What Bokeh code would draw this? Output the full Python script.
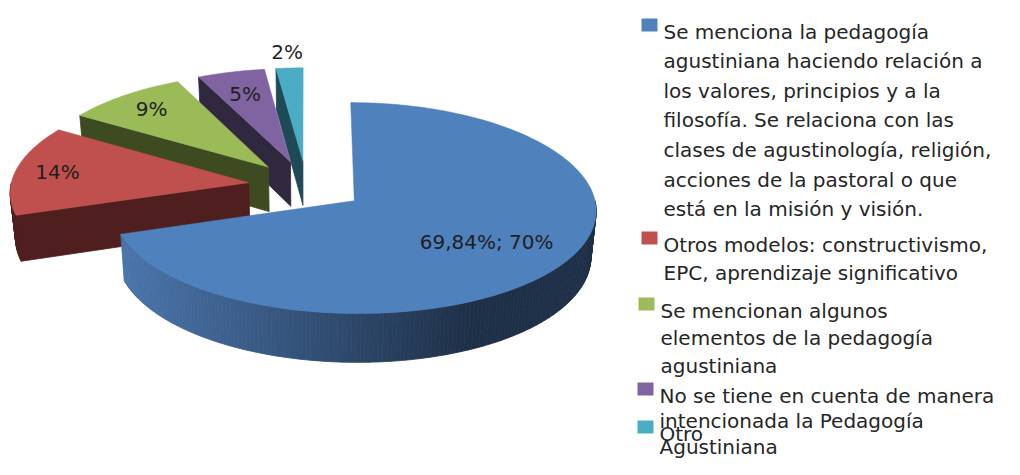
import numpy as np
from bokeh.plotting import figure
from bokeh.models import Range1d
from bokeh.core.properties import value
from bokeh.embed import file_html
from bokeh.resources import INLINE

# ---------------- data ----------------
categories = [
    "Se menciona la pedagogía agustiniana haciendo relación a los valores, principios y a la filosofía. Se relaciona con las clases de agustinología, religión, acciones de la pastoral o que está en la misión y visión.",
    "Otros modelos: constructivismo, EPC, aprendizaje significativo",
    "Se mencionan algunos elementos de la pedagogía agustiniana",
    "No se tiene en cuenta de manera intencionada la Pedagogía Agustiniana",
    "Otro",
]
legend_lines = [
    ["Se menciona la pedagogía", "agustiniana haciendo relación a",
     "los valores, principios y a la", "filosofía. Se relaciona con las",
     "clases de agustinología, religión,", "acciones de la pastoral o que",
     "está en la misión y visión."],
    ["Otros modelos: constructivismo,", "EPC, aprendizaje significativo"],
    ["Se mencionan algunos", "elementos de la pedagogía", "agustiniana"],
    ["No se tiene en cuenta de manera", "intencionada la Pedagogía", "Agustiniana"],
    ["Otro"],
]
values = [69.84, 14.0, 9.0, 5.0, 2.0]
data_labels = ["69,84%; 70%", "14%", "9%", "5%", "2%"]
top_colors = ["#4F81BD", "#C0504D", "#9BBB59", "#8064A2", "#4BACC6"]
side_colors = ["#2E4B73", "#4F1E1E", "#3E4B20", "#30283F", "#1E4A56"]

# ---------------- 3D pie geometry (layout) ----------------
CX, CY = 306.0, 185.3
RX, RY = 238.0, 102.9
PX, PY = 0.08, 0.0687
H = 45.0
Q = 0.018
EXPLODE = 0.245
LABEL_R = [0.65, 0.82, 0.80, 0.75, 1.19]
GRAD_L, GRAD_R = "#4A74AA", "#1E3048"


def proj(X, Z):
    X = np.asarray(X, dtype=float)
    Z = np.asarray(Z, dtype=float)
    sx = 1.0 / (1.0 + PX * Z)
    sy = 1.0 / (1.0 + PY * Z)
    return CX + RX * X * sx, CY - RY * Z * sy


def proj_bot(X, Z):
    x, y = proj(X, Z)
    sy = 1.0 / (1.0 + PY * np.asarray(Z, dtype=float))
    return CX + (x - CX) * (1 - Q), y + H * sy


def hex2rgb(h):
    h = h.lstrip("#")
    return np.array([int(h[i:i + 2], 16) for i in (0, 2, 4)], dtype=float)


def lerp_color(c0, c1, t):
    t = min(max(t, 0.0), 1.0)
    c = hex2rgb(c0) * (1 - t) + hex2rgb(c1) * t
    return "#%02x%02x%02x" % tuple(int(round(v)) for v in c)


total = float(sum(values))
fracs = [v / total for v in values]
starts = np.concatenate([[0.0], np.cumsum(fracs)[:-1]]) * 360.0
ends = np.cumsum(fracs) * 360.0

slices = []
for i in range(len(values)):
    a, b = starts[i], ends[i]
    m = np.radians((a + b) / 2)
    ax, az = EXPLODE * np.sin(m), EXPLODE * np.cos(m)
    slices.append(dict(i=i, a=a, b=b, ax=ax, az=az, m=m))

p = figure(width=1004, height=459, x_range=Range1d(0, 1004), y_range=Range1d(459, 0),
           toolbar_location=None, output_backend="svg", x_axis_type=None, y_axis_type=None,
           min_border=0, outline_line_color=None, background_fill_color="white")
p.grid.visible = False

# draw back-to-front
for s in sorted(slices, key=lambda d: -d["az"]):
    i, a, b, ax, az = s["i"], s["a"], s["b"], s["ax"], s["az"]
    polys_x, polys_y, cols = [], [], []

    # curved outer wall (front-facing part)
    lo, hi = max(a, 90.0), min(b, 270.0)
    if hi > lo:
        n = max(2, int((hi - lo) / 1.0) + 1)
        ts = np.linspace(lo, hi, n)
        for k in range(n - 1):
            t0, t1 = np.radians(ts[k]), np.radians(ts[k + 1])
            X = np.array([ax + np.sin(t0), ax + np.sin(t1)])
            Z = np.array([az + np.cos(t0), az + np.cos(t1)])
            xt, yt = proj(X, Z)
            xb, yb = proj_bot(X, Z)
            polys_x.append([xt[0], xt[1], xb[1], xb[0]])
            polys_y.append([yt[0], yt[1], yb[1], yb[0]])
            if i == 0:
                cols.append(lerp_color(GRAD_L, GRAD_R, ((xt[0] + xt[1]) / 2 - 125) / (470 - 125)))
            else:
                cols.append(side_colors[i])

    # radial faces
    for ang, normal in ((a, a - 90.0), (b, b + 90.0)):
        if np.cos(np.radians(normal)) < -1e-6:
            t = np.radians(ang)
            X = np.array([ax, ax + np.sin(t)])
            Z = np.array([az, az + np.cos(t)])
            xt, yt = proj(X, Z)
            xb, yb = proj_bot(X, Z)
            polys_x.append([xt[0], xt[1], xb[1], xb[0]])
            polys_y.append([yt[0], yt[1], yb[1], yb[0]])
            cols.append(side_colors[i])

    if polys_x:
        p.patches(polys_x, polys_y, fill_color=cols, line_color=cols, line_width=0.8)

    # top face
    ts = np.radians(np.linspace(a, b, max(3, int(b - a) + 2)))
    X = np.concatenate([[ax], ax + np.sin(ts)])
    Z = np.concatenate([[az], az + np.cos(ts)])
    xt, yt = proj(X, Z)
    p.patch(list(xt), list(yt), fill_color=top_colors[i], line_color=top_colors[i], line_width=0.5)

# data labels
lx, ly = [], []
for s in slices:
    r = LABEL_R[s["i"]]
    X = s["ax"] + r * np.sin(s["m"])
    Z = s["az"] + r * np.cos(s["m"])
    x, y = proj(X, Z)
    lx.append(float(x))
    ly.append(float(y))
p.text(x=lx, y=ly, text=data_labels, text_align="center", text_baseline="middle",
       text_font=value("DejaVu Sans"), text_font_size="20px", text_color="#1F1F1F")

# legend
LEG_BASE = [31.0, 244.0, 310.0, 395.0, 433.0]
LEG_SQ_X = [641.0, 641.0, 638.0, 637.0, 637.0]
LINE_H = [29.6, 28.0, 27.5, 25.5, 25.5]
p.quad(left=LEG_SQ_X, right=[x + 16 for x in LEG_SQ_X],
       top=[y - 13 for y in LEG_BASE], bottom=LEG_BASE,
       fill_color=top_colors, line_color=None)
tx, ty, tt = [], [], []
for i, lines in enumerate(legend_lines):
    for j, line in enumerate(lines):
        tx.append(LEG_SQ_X[i] + 22)
        ty.append(LEG_BASE[i] + j * LINE_H[i])
        tt.append(line)
p.text(x=tx, y=ty, text=tt, text_align="left", text_baseline="alphabetic",
       text_font=value("DejaVu Sans"), text_font_size="20px", text_color="#262626")

open("out.html", "w").write(file_html(p, INLINE))
